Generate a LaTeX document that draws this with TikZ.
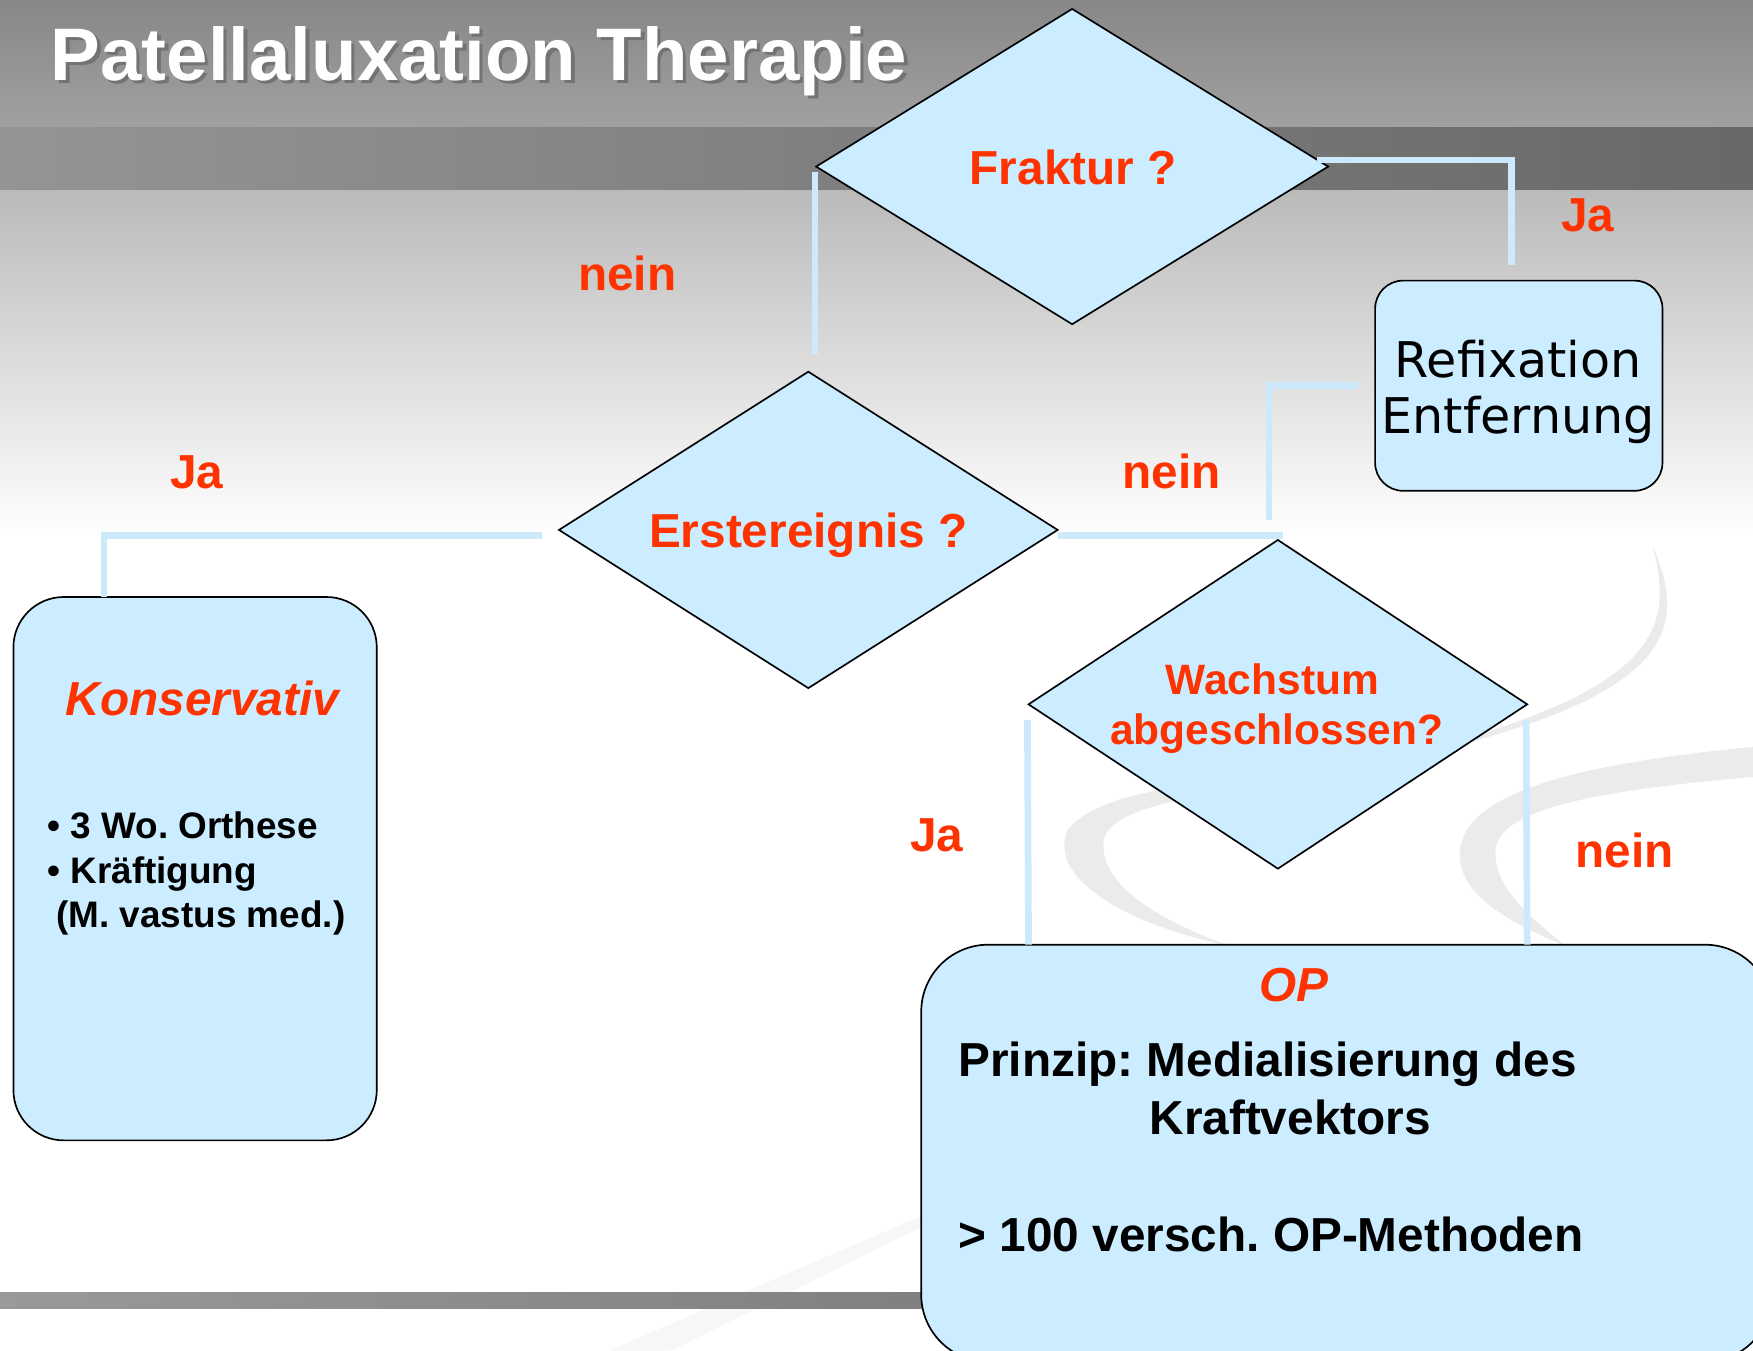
\documentclass[tikz,border=0pt]{standalone}
\usepackage{fontspec}
\setmainfont{Liberation Sans}
\newfontfamily\vfont{DejaVu Sans}
\usetikzlibrary{shapes.geometric,calc}
\definecolor{boxblue}{HTML}{CCECFF}
\definecolor{connblue}{HTML}{CCEAFB}
\definecolor{lblred}{HTML}{FF3300}
\definecolor{swoosh}{HTML}{EBEBEB}
\frenchspacing
\tikzset{
  dia/.style={diamond, draw=black, line width=0.75pt, fill=boxblue, inner sep=0pt, outer sep=0pt},
  rbox/.style={rectangle, draw=black, line width=0.75pt, fill=boxblue, inner sep=0pt, outer sep=0pt},
  conn/.style={draw=connblue, line width=3pt},
  lbl/.style={text=lblred, font=\fontsize{21.35}{26}\selectfont\bfseries, inner sep=0pt, anchor=base},
  blk/.style={text=black, font=\fontsize{21.35}{26}\selectfont\bfseries, inner sep=0pt, anchor=base west},
  bul/.style={text=black, font=\fontsize{16.5}{20}\selectfont\bfseries, inner sep=0pt, anchor=base west}
}
\begin{document}
\begin{tikzpicture}[x=0.5pt,y=-0.5pt]
\useasboundingbox (0,0) rectangle (1568,1208);
\begin{scope}
\clip (0,0) rectangle (1568,1208);
% background
\fill[white] (0,0) rectangle (1568,1208);
\shade[top color=black!47, bottom color=black!37] (0,0) rectangle (1568,114);
\shade[left color=black!42, right color=black!59] (0,114) rectangle (1568,170);
\shade[top color=black!27, bottom color=white] (0,170) rectangle (1568,480);
% decorative swooshes
\fill[swoosh] (1478,488) .. controls (1515,570) and (1480,620) .. (1300,668)
  .. controls (1150,705) and (1000,690) .. (955,742)
  .. controls (935,790) and (1020,830) .. (1100,846)
  .. controls (1040,825) and (978,790) .. (988,748)
  .. controls (1010,705) and (1150,712) .. (1320,658)
  .. controls (1480,608) and (1498,560) .. (1478,488) -- cycle;
\fill[swoosh] (1568,668) .. controls (1450,680) and (1312,700) .. (1306,760)
  .. controls (1302,800) and (1350,825) .. (1400,846)
  .. controls (1362,815) and (1334,790) .. (1338,757)
  .. controls (1346,720) and (1450,705) .. (1568,695) -- cycle;
\fill[black!3] (830,1085) -- (850,1085) -- (600,1208) -- (545,1208) -- cycle;
% bottom bar
\shade[left color=black!40, right color=black!50] (0,1156) rectangle (830,1170);
% title
\node[anchor=base west, inner sep=0pt, text=black!55, font=\fontsize{33.3}{40}\selectfont\bfseries] (tsh) at (48,75) {Patellaluxation Therapie};
\node[anchor=base west, inner sep=0pt, text=white, font=\fontsize{33.3}{40}\selectfont\bfseries] (title) at (45,72) {Patellaluxation Therapie};

% shapes
\node[dia, minimum width=229pt, minimum height=141pt, aspect=1.62] (F) at (959,149) {};
\node[dia, minimum width=223pt, minimum height=141.5pt, aspect=1.58] (E) at (723,474) {};
\node[dia, minimum width=223pt, minimum height=147pt, aspect=1.52] (W) at (1143,630) {};
\node[rbox, rounded corners=12.5pt, minimum width=128.5pt, minimum height=94pt] (R) at (1358.5,345) {};
\node[rbox, rounded corners=22.5pt, minimum width=162.5pt, minimum height=243pt] (K) at (174.5,777) {};
\node[rbox, rounded corners=30pt, minimum width=380.5pt, minimum height=186.5pt] (OP) at (1204.5,1031.5) {};

% connectors
\draw[conn] (F.east) ++(-10,-6) -| ++(174,94);
\draw[conn] (F.west) ++(-1,5) -- ++(0,163);
\draw[conn] (E.west) ++(-15,5) -| ($(K.north west)+(81,0)$);
\draw[conn] (E.east) ++(0,5) -- ++(202,0);
\draw[conn] (R.west) ++(-15,0) -| ++(-80,120);
\draw[conn] (W.west) ++(-1,14) -- (W.west |- OP.north);
\draw[conn] (W.east) ++(-1,14) -- (W.east |- OP.north);

% texts in shapes
\node[lbl] (Ft) at (960,165) {Fraktur ?};
\node[lbl] (Et) at (723,490) {Erstereignis ?};
\node[lbl, font=\fontsize{19}{23.5}\selectfont\bfseries] (Wt1) at (1138,621) {Wachstum};
\node[lbl, font=\fontsize{19}{23.5}\selectfont\bfseries] (Wt2) at (1142,666) {abgeschlossen?};
\node[anchor=base, inner sep=0pt, font=\vfont\fontsize{22}{25}\selectfont] (Rt1) at (1358,338) {Refixation};
\node[anchor=base, inner sep=0pt, font=\vfont\fontsize{22}{25}\selectfont] (Rt2) at (1358,388) {Entfernung};
\node[lbl, font=\fontsize{21.35}{26}\selectfont\bfseries\itshape] (Kt) at (181,640) {Konservativ};
\node[bul] (k1) at (42,750) {• 3 Wo. Orthese};
\node[bul] (k2) at (42,790) {• Kräftigung};
\node[bul] (k3) at (50,830) {(M. vastus med.)};
\node[lbl, font=\fontsize{21.35}{26}\selectfont\bfseries\itshape] (OPt) at (1157,896) {OP};
\node[blk] (o1) at (857,963) {Prinzip: Medialisierung des};
\node[blk, anchor=base] (o2) at (1154,1015) {Kraftvektors};
\node[blk] (o3) at (857,1119) {> 100 versch. OP-Methoden};

% branch labels
\node[lbl] (l1) at (561,260) {nein};
\node[lbl] (l2) at (1420,207) {Ja};
\node[lbl] (l3) at (176,437) {Ja};
\node[lbl] (l4) at (1048,437) {nein};
\node[lbl] (l5) at (838,762) {Ja};
\node[lbl] (l6) at (1453,776) {nein};
\end{scope}
\end{tikzpicture}
\end{document}
